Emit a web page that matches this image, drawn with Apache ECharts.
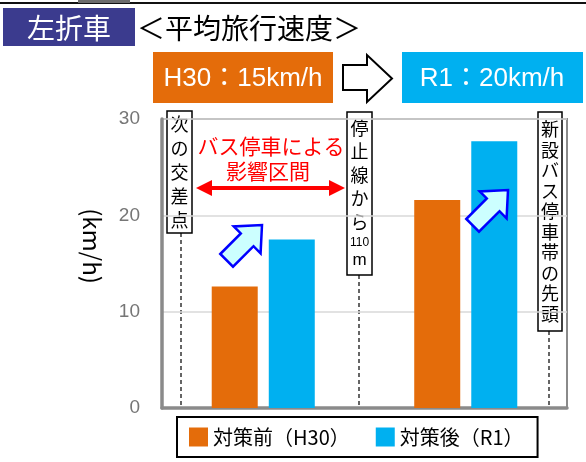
<!DOCTYPE html>
<html>
<head>
<meta charset="utf-8">
<script src="https://cdn.jsdelivr.net/npm/echarts@6/dist/echarts.min.js"></script>
<style>
html,body{margin:0;padding:0;background:#fff;}
#main{width:586px;height:462px;}
</style>
</head>
<body>
<div id="main"></div>
<script>
// ---- data ----
const categories = ['区間1', '区間2'];
const seriesNames = ['対策前（H30）', '対策後（R1）'];
const beforeValues = [12.6, 21.6];
const afterValues = [17.5, 27.7];
const yMin = 0, yMax = 30, yInterval = 10;
const titleTag = '左折車';
const titleText = '＜平均旅行速度＞';
const beforeSummary = 'H30：15km/h';
const afterSummary = 'R1：20km/h';
const zoneText = ['バス停車による', '影響区間'];
const markerTexts = ['次の交差点', '停止線から', '新設バス停車帯の先頭'];

const JP = '"Noto Sans CJK JP", "Noto Sans", sans-serif';
const LAT = '"Liberation Sans", "Noto Sans CJK JP", sans-serif';
const ORANGE = '#E46C0A';
const CYAN = '#00B0F0';

function blockArrow(tx, ty, len, headLen, shaftHalf, headHalf) {
  // arrow pointing up-right at 45 degrees, tip at (tx,ty)
  const d = [Math.SQRT1_2, -Math.SQRT1_2];
  const n = [Math.SQRT1_2, Math.SQRT1_2];
  const ox = tx - len * d[0], oy = ty - len * d[1];
  const loc = [[0,-shaftHalf],[len-headLen,-shaftHalf],[len-headLen,-headHalf],[len,0],
               [len-headLen,headHalf],[len-headLen,shaftHalf],[0,shaftHalf]];
  return loc.map(p => [ox + p[0]*d[0] + p[1]*n[0], oy + p[0]*d[1] + p[1]*n[1]]);
}

function vertical(s) { return s.split('').join('\n'); }

const chart = echarts.init(document.getElementById('main'));

const graphics = [
  // top rule
  { type: 'rect', shape: { x: 0, y: 2, width: 586, height: 2 }, style: { fill: '#111' } },
  { type: 'rect', shape: { x: 78, y: 0, width: 52, height: 3 }, style: { fill: '#6b6b6b' } },
  // title tag
  { type: 'rect', shape: { x: 3, y: 8, width: 132, height: 38 }, style: { fill: '#3B3B8E' } },
  { type: 'text', style: { x: 69, y: 28, text: titleTag, fill: '#fff', font: '28px ' + JP, align: 'center', verticalAlign: 'middle' } },
  { type: 'text', style: { x: 137, y: 28, text: titleText, fill: '#000', font: '28px ' + JP, align: 'left', verticalAlign: 'middle' } },
  // summary boxes
  { type: 'rect', shape: { x: 153, y: 52, width: 180, height: 51 }, style: { fill: ORANGE } },
  { type: 'text', style: { x: 243, y: 79, text: beforeSummary, fill: '#fff', font: '26px ' + LAT, align: 'center', verticalAlign: 'middle' } },
  { type: 'polygon', shape: { points: [[343,65],[367,65],[367,55],[392,78.5],[367,102],[367,90],[343,90]] }, style: { fill: '#fff', stroke: '#000', lineWidth: 2 } },
  { type: 'rect', shape: { x: 402, y: 52, width: 181, height: 51 }, style: { fill: CYAN } },
  { type: 'text', style: { x: 492, y: 79, text: afterSummary, fill: '#fff', font: '26px ' + LAT, align: 'center', verticalAlign: 'middle' } },
  // y axis name
  { type: 'text', x: 92, y: 246, rotation: -Math.PI / 2, style: { x: 0, y: 0, text: '(km/h)', fill: '#000', font: '24px ' + JP, align: 'center', verticalAlign: 'middle' } },
  // red zone text and double arrow
  { type: 'text', style: { x: 271, y: 146, text: zoneText[0], fill: '#FF0000', font: '21px ' + JP, align: 'center', verticalAlign: 'middle' } },
  { type: 'text', style: { x: 268, y: 171, text: zoneText[1], fill: '#FF0000', font: '21px ' + JP, align: 'center', verticalAlign: 'middle' } },
  { type: 'line', shape: { x1: 208, y1: 188, x2: 333, y2: 188 }, style: { stroke: '#FF0000', lineWidth: 4 } },
  { type: 'polygon', shape: { points: [[196,188],[212,180],[212,196]] }, style: { fill: '#FF0000' } },
  { type: 'polygon', shape: { points: [[345,188],[329,180],[329,196]] }, style: { fill: '#FF0000' } },
  // dashed marker lines
  { type: 'line', shape: { x1: 181, y1: 233, x2: 181, y2: 407 }, style: { stroke: '#333', lineWidth: 1.5, lineDash: [4, 3] } },
  { type: 'line', shape: { x1: 359, y1: 275, x2: 359, y2: 407 }, style: { stroke: '#333', lineWidth: 1.5, lineDash: [4, 3] } },
  { type: 'line', shape: { x1: 549, y1: 331, x2: 549, y2: 407 }, style: { stroke: '#333', lineWidth: 1.5, lineDash: [4, 3] } },
  // marker boxes
  { type: 'rect', shape: { x: 167, y: 111, width: 25, height: 122 }, style: { fill: '#fff', stroke: '#000', lineWidth: 1.5 } },
  { type: 'text', style: { x: 179.5, y: 172, text: vertical(markerTexts[0]), fill: '#000', font: '18px ' + JP, lineHeight: 24, align: 'center', verticalAlign: 'middle' } },
  { type: 'rect', shape: { x: 347, y: 112, width: 25, height: 163 }, style: { fill: '#fff', stroke: '#000', lineWidth: 1.5 } },
  { type: 'text', style: { x: 359.5, y: 193.5, text: vertical(markerTexts[1]) + '\n{s|110}\n{m|m}', fill: '#000', font: '18px ' + JP, lineHeight: 23.5, align: 'center', verticalAlign: 'middle',
      rich: { s: { font: '12px ' + LAT, lineHeight: 17, fill: '#000' }, m: { font: '17px ' + LAT, lineHeight: 20, fill: '#000' } } } },
  { type: 'rect', shape: { x: 538, y: 112, width: 24, height: 219 }, style: { fill: '#fff', stroke: '#000', lineWidth: 1.5 } },
  { type: 'text', style: { x: 550, y: 221.5, text: vertical(markerTexts[2]), fill: '#000', font: '18px ' + JP, lineHeight: 20.5, align: 'center', verticalAlign: 'middle' } },
  // blue block arrows
  { type: 'polygon', z: 10, shape: { points: blockArrow(262, 225, 50, 21, 9, 19) }, style: { fill: '#CCFFFF', stroke: '#0000FF', lineWidth: 2.5, lineJoin: 'miter' } },
  { type: 'polygon', z: 10, shape: { points: blockArrow(508, 190, 50, 21, 9, 19) }, style: { fill: '#CCFFFF', stroke: '#0000FF', lineWidth: 2.5, lineJoin: 'miter' } }
];

chart.setOption({
  animation: false,
  backgroundColor: '#fff',
  grid: { left: 162, right: 19, top: 119, bottom: 54, show: true, borderColor: '#8a8a8a', borderWidth: 2, containLabel: false },
  legend: {
    left: 177, top: 417,
    data: seriesNames,
    icon: 'rect', itemWidth: 19, itemHeight: 19, itemGap: 26,
    padding: [10, 14, 10, 12],
    borderColor: '#000', borderWidth: 2,
    textStyle: { fontSize: 20, fontFamily: JP, color: '#000' }
  },
  xAxis: {
    type: 'category', data: categories,
    axisLine: { show: true, lineStyle: { color: '#8a8a8a', width: 3.5 } },
    axisTick: { show: false }, axisLabel: { show: false }, splitLine: { show: false }
  },
  yAxis: {
    type: 'value', min: yMin, max: yMax, interval: yInterval,
    axisLine: { show: true, lineStyle: { color: '#8a8a8a', width: 3.5 } },
    axisTick: { show: false },
    axisLabel: { color: '#767676', fontSize: 19, fontFamily: LAT, margin: 22 },
    splitLine: { show: true, lineStyle: { color: '#d9d9d9', width: 1.5 } }
  },
  series: [
    { name: seriesNames[0], type: 'bar', data: beforeValues, barWidth: 46, barGap: '24%', itemStyle: { color: ORANGE } },
    { name: seriesNames[1], type: 'bar', data: afterValues, barWidth: 46, barGap: '24%', itemStyle: { color: CYAN } }
  ],
  graphic: graphics
});
</script>
</body>
</html>
